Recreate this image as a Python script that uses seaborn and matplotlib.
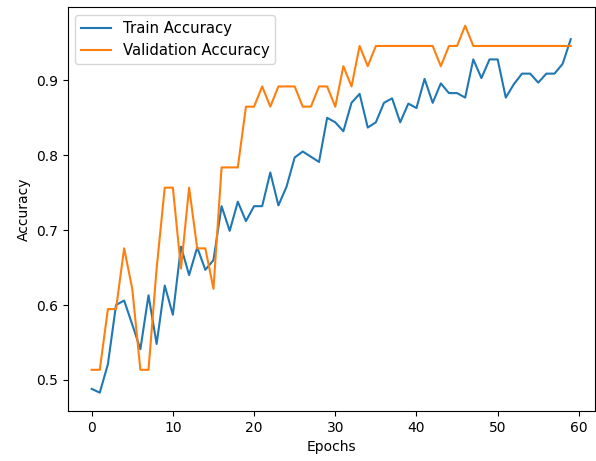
import numpy as np
import pandas as pd
import matplotlib
matplotlib.use('Agg')
import matplotlib.pyplot as plt
import seaborn as sns

# accuracy per epoch
train_acc = [0.488, 0.483, 0.521, 0.600, 0.606, 0.574, 0.541, 0.613, 0.548, 0.626,
             0.587, 0.678, 0.640, 0.677, 0.647, 0.660, 0.732, 0.699, 0.738, 0.712,
             0.732, 0.732, 0.777, 0.733, 0.758, 0.797, 0.805, 0.798, 0.791, 0.850,
             0.844, 0.832, 0.870, 0.882, 0.837, 0.844, 0.870, 0.876, 0.844, 0.869,
             0.863, 0.902, 0.870, 0.896, 0.883, 0.883, 0.877, 0.928, 0.903, 0.928,
             0.928, 0.877, 0.895, 0.909, 0.909, 0.897, 0.909, 0.909, 0.922, 0.955]

# validation set of 37 samples -> values are k/37
val_correct = [19, 19, 22, 22, 25, 23, 19, 19, 24, 28,
               28, 24, 28, 25, 25, 23, 29, 29, 29, 32,
               32, 33, 32, 33, 33, 33, 32, 32, 33, 33,
               32, 34, 33, 35, 34, 35, 35, 35, 35, 35,
               35, 35, 35, 34, 35, 35, 36, 35, 35, 35,
               35, 35, 35, 35, 35, 35, 35, 35, 35, 35]
val_acc = [c / 37 for c in val_correct]

epochs = list(range(len(train_acc)))

df = pd.DataFrame({'Epochs': epochs, 'train': train_acc, 'val': val_acc})

fig, ax = plt.subplots(figsize=(5.96, 4.61), dpi=100)
fig.subplots_adjust(left=0.1136, right=0.9978, top=0.984, bottom=0.1085)

sns.lineplot(x='Epochs', y='train', data=df, ax=ax, color='#1f77b4', label='Train Accuracy')
sns.lineplot(x='Epochs', y='val', data=df, ax=ax, color='#ff7f0e', label='Validation Accuracy')

ax.set_xlabel('Epochs')
ax.set_ylabel('Accuracy')
ax.set_xticks([0, 10, 20, 30, 40, 50, 60])
ax.legend(loc='upper left', fontsize=10.7)

fig.savefig('out.png', dpi=100)
